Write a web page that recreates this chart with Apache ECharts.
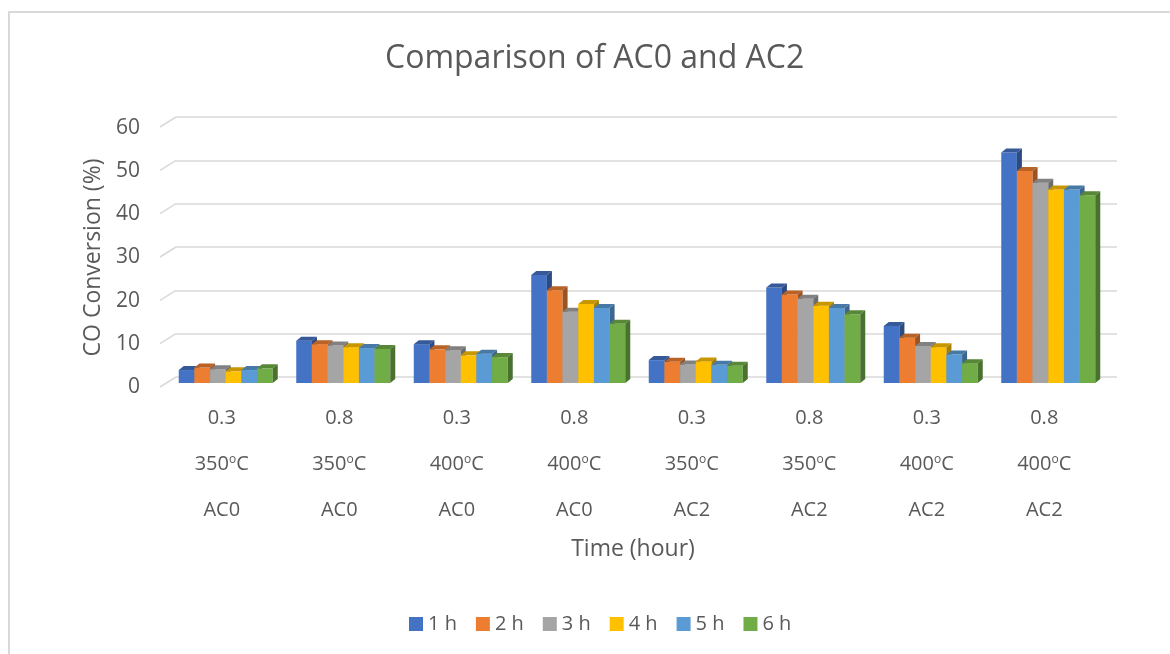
<!DOCTYPE html>
<html>
<head>
<meta charset="utf-8">
<title>Comparison of AC0 and AC2</title>
<script src="https://cdn.jsdelivr.net/npm/echarts@6/dist/echarts.min.js"></script>
<style>
  html, body { margin: 0; padding: 0; background: #ffffff; }
  #chart { width: 1170px; height: 654px; }
</style>
</head>
<body>
<div id="chart"></div>
<script>
// Category labels (three rows under each cluster)
const ratios  = ['0.3', '0.8', '0.3', '0.8', '0.3', '0.8', '0.3', '0.8'];
const temps   = ['350', '350', '400', '400', '350', '350', '400', '400'];
const samples = ['AC0', 'AC0', 'AC0', 'AC0', 'AC2', 'AC2', 'AC2', 'AC2'];

// CO conversion (%) per time on stream
const seriesNames = ['1 h', '2 h', '3 h', '4 h', '5 h', '6 h'];
const h1 = [3.0, 9.8, 9.0, 25.0, 5.3, 22.1, 13.2, 53.4];
const h2 = [3.6, 9.0, 7.8, 21.5, 4.9, 20.5, 10.5, 49.1];
const h3 = [3.2, 8.7, 7.6, 16.5, 4.3, 19.5, 8.6, 46.4];
const h4 = [2.7, 8.3, 6.4, 18.3, 5.0, 17.9, 8.3, 44.8];
const h5 = [3.0, 8.1, 6.8, 17.4, 4.2, 17.4, 6.6, 44.8];
const h6 = [3.4, 7.9, 6.0, 13.7, 4.0, 15.9, 4.6, 43.5];
const seriesValues = [h1, h2, h3, h4, h5, h6];

// Value-axis ticks
const yTicks = [0, 10, 20, 30, 40, 50, 60];

const colors = ['#4472C4', '#ED7D31', '#A5A5A5', '#FFC000', '#5B9BD5', '#70AD47'];
const TEXT = '#595959';
const FONT = '"Open Sans", sans-serif';

function shade(hex, k) {
  const n = parseInt(hex.slice(1), 16);
  const r = Math.round(((n >> 16) & 255) * k);
  const g = Math.round(((n >> 8) & 255) * k);
  const b = Math.round((n & 255) * k);
  return 'rgb(' + r + ',' + g + ',' + b + ')';
}

const catIdx = ratios.map((_, i) => String(i));
const DEPTH_X = 5, DEPTH_Y = 4;   // extrusion of each bar
const CLUSTER = 0.8;              // share of the band taken by one cluster

// Extruded bar: front face, top face, right side face
function barRenderer(sIdx) {
  return function (params, api) {
    const ci = api.value(0);
    const v = api.value(1);
    const base = api.coord([ci, 0]);
    const top = api.coord([ci, v]);
    const band = api.size([1, 0])[0];
    const w = band * CLUSTER / seriesNames.length;
    const x0 = base[0] - band * CLUSTER / 2 + sIdx * w;
    const y0 = base[1], y1 = top[1];
    const c = colors[sIdx];
    return {
      type: 'group',
      children: [
        { type: 'rect', shape: { x: x0, y: y1, width: w, height: y0 - y1 },
          style: { fill: c } },
        { type: 'polygon',
          shape: { points: [[x0, y1], [x0 + DEPTH_X, y1 - DEPTH_Y], [x0 + w + DEPTH_X, y1 - DEPTH_Y], [x0 + w, y1]] },
          style: { fill: shade(c, 0.78) } },
        { type: 'polygon',
          shape: { points: [[x0 + w, y1], [x0 + w + DEPTH_X, y1 - DEPTH_Y], [x0 + w + DEPTH_X, y0 - DEPTH_Y], [x0 + w, y0]] },
          style: { fill: shade(c, 0.66) } }
      ]
    };
  };
}

// Short receding segments joining each back-wall gridline to the floor edge
function slantRenderer(params, api) {
  const cs = params.coordSys;
  const p = api.coord([0, api.value(1)]);
  return {
    type: 'line',
    shape: { x1: cs.x - 16, y1: p[1] + 10, x2: cs.x, y2: p[1] },
    style: { stroke: '#d9d9d9', lineWidth: 1.6 }
  };
}

const chart = echarts.init(document.getElementById('chart'), null, { renderer: 'canvas' });

const barSeries = seriesNames.map((name, s) => ({
  name: name,
  type: 'custom',
  xAxisIndex: 0,
  yAxisIndex: 0,
  itemStyle: { color: colors[s] },
  renderItem: barRenderer(s),
  encode: { x: 0, y: 1 },
  data: seriesValues[s].map((v, i) => [i, v]),
  z: 5
}));

const option = {
  backgroundColor: '#ffffff',
  animation: false,
  textStyle: { fontFamily: FONT, color: TEXT },
  title: {
    text: 'Comparison of AC0 and AC2',
    left: 385,
    top: 43,
    padding: 0,
    textStyle: { fontFamily: FONT, fontSize: 32, fontWeight: 'normal', color: TEXT }
  },
  legend: {
    data: seriesNames,
    left: 409,
    top: 614,
    padding: 0,
    icon: 'rect',
    itemWidth: 14,
    itemHeight: 14,
    itemGap: 19,
    textStyle: { fontFamily: FONT, fontSize: 20, color: TEXT }
  },
  graphic: [{
    type: 'rect',
    shape: { x: 9, y: 12, width: 1300, height: 800 },
    style: { fill: 'none', stroke: '#d9d9d9', lineWidth: 2 },
    silent: true, z: -10
  }],
  grid: [
    // 0: bars (front plane)
    { left: 167, width: 940, top: 124, height: 259 },
    // 1: back wall with gridlines
    { left: 176, right: 53, top: 117, height: 260 },
    // 2: front floor edge, carries the labels
    { left: 163, width: 940, top: 128, height: 259 }
  ],
  xAxis: [
    { gridIndex: 0, type: 'category', data: catIdx, show: false },
    { gridIndex: 1, type: 'category', data: catIdx, show: false },
    {
      gridIndex: 2, type: 'category', data: catIdx,
      axisLine: { show: false }, axisTick: { show: false },
      axisLabel: {
        margin: 8,
        interval: 0,
        formatter: function (v, i) {
          return '{a|' + ratios[i] + '}\n{a|' + temps[i] + '}{s|o}{a|C}\n{a|' + samples[i] + '}';
        },
        rich: {
          a: { fontFamily: FONT, fontSize: 20, lineHeight: 46, color: TEXT },
          s: { fontFamily: FONT, fontSize: 12, color: TEXT, verticalAlign: 'top', padding: [13, 0, 0, 0] }
        }
      },
      name: 'Time (hour)',
      nameLocation: 'middle',
      nameGap: 151,
      nameTextStyle: { fontFamily: FONT, fontSize: 23, color: TEXT }
    }
  ],
  yAxis: [
    { gridIndex: 0, type: 'value', min: 0, max: 60, interval: 10, show: false },
    {
      gridIndex: 1, type: 'value', min: 0, max: 60, interval: 10,
      axisLine: { show: false }, axisTick: { show: false }, axisLabel: { show: false },
      splitLine: { show: true, lineStyle: { color: '#d9d9d9', width: 1.6 } }
    },
    {
      gridIndex: 2, type: 'value', min: 0, max: 60, interval: 10,
      axisLine: { show: false }, axisTick: { show: false },
      splitLine: { show: false },
      axisLabel: { margin: 23, fontFamily: FONT, fontSize: 21, color: TEXT },
      name: 'CO Conversion (%)',
      nameLocation: 'middle',
      nameGap: 57,
      nameTextStyle: { fontFamily: FONT, fontSize: 23, color: TEXT }
    }
  ],
  series: [
    {
      type: 'custom',
      xAxisIndex: 1,
      yAxisIndex: 1,
      renderItem: slantRenderer,
      encode: { x: 0, y: 1 },
      data: yTicks.map(t => [0, t]),
      silent: true,
      z: 1
    }
  ].concat(barSeries)
};

chart.setOption(option);
</script>
</body>
</html>
